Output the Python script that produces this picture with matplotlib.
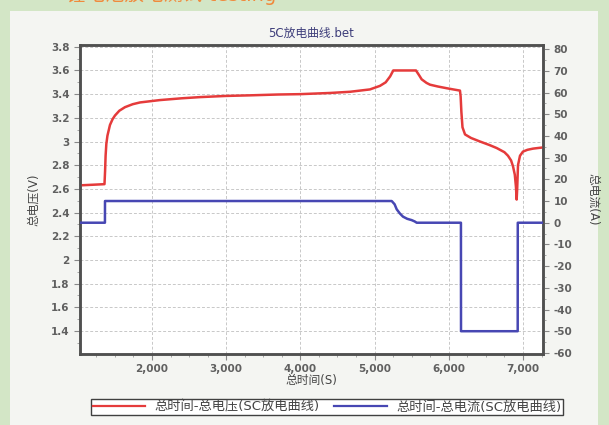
import matplotlib
matplotlib.use("Agg")
import matplotlib.pyplot as plt
from matplotlib.ticker import FuncFormatter, MultipleLocator, FixedLocator

plt.rcParams['font.family'] = ['DejaVu Sans', 'Noto Sans CJK SC']
plt.rcParams['axes.unicode_minus'] = False

# ---- data ----
volt_t = [1030, 1200, 1360, 1368, 1375, 1385, 1400, 1434, 1470, 1502, 1560, 1636, 1740, 1839,
          2108, 2400, 2647, 3000, 3321, 3700, 3995, 4400, 4669, 4938, 5073, 5150, 5210, 5252,
          5558, 5600, 5635, 5700, 5747, 5850, 5972, 6060, 6151, 6160, 6170, 6185, 6219, 6300,
          6421, 6550, 6646, 6750, 6798, 6840, 6866, 6890, 6905, 6915, 6922, 6933, 6960, 7000,
          7060, 7135, 7200, 7270]
volt_v = [2.63, 2.635, 2.64, 2.75, 2.88, 2.98, 3.05, 3.14, 3.19, 3.22, 3.26, 3.29, 3.315, 3.33,
          3.35, 3.365, 3.375, 3.385, 3.39, 3.397, 3.40, 3.41, 3.42, 3.44, 3.47, 3.50, 3.55, 3.60,
          3.60, 3.56, 3.525, 3.495, 3.48, 3.465, 3.45, 3.44, 3.43, 3.38, 3.25, 3.12, 3.06, 3.03,
          3.00, 2.97, 2.945, 2.91, 2.88, 2.84, 2.79, 2.72, 2.62, 2.51, 2.60, 2.80, 2.88, 2.915,
          2.93, 2.94, 2.945, 2.95]

curr_t = [1030, 1366, 1367, 5231, 5270, 5298, 5340, 5383, 5440, 5500, 5540, 5568, 6164, 6165,
          6929, 6930, 7270]
curr_a = [0, 0, 10, 10, 8.5, 6.2, 4.3, 2.8, 1.8, 1.2, 0.6, 0, 0, -50, -50, 0, 0]

title = "5C放电曲线.bet"
xlabel = "总时间(S)"
ylabel_left = "总电压(V)"
ylabel_right = "总电流(A)"
legend_labels = ["总时间-总电压(SC放电曲线)", "总时间-总电流(SC放电曲线)"]
header_text = "锂电池放电测试 testing"

x_ticks = [2000, 3000, 4000, 5000, 6000, 7000]
yl_ticks = [1.4, 1.6, 1.8, 2.0, 2.2, 2.4, 2.6, 2.8, 3.0, 3.2, 3.4, 3.6, 3.8]
yr_ticks = [-60, -50, -40, -30, -20, -10, 0, 10, 20, 30, 40, 50, 60, 70, 80]

# ---- figure ----
W, H = 609, 425
fig = plt.figure(figsize=(W / 100, H / 100), dpi=100, facecolor='#d3e6c6')
bg = fig.add_axes([10 / W, 0, (598 - 10) / W, (H - 11) / H], zorder=-10)
bg.set_facecolor('#f4f5f2')
bg.set_xticks([]); bg.set_yticks([])
for s in bg.spines.values():
    s.set_visible(False)

fig.text(66 / W, 1 - 1 / H, header_text, color='#f08a3c', fontsize=14,
         va='baseline', ha='left')

ax = fig.add_axes([80 / W, (H - 354) / H, (543 - 80) / W, (354 - 45) / H], zorder=1)
ax.set_facecolor('white')
ax2 = ax.twinx()

lv, = ax.plot(volt_t, volt_v, color='#e53b3b', lw=1.8, zorder=3)
lc, = ax2.plot(curr_t, curr_a, color='#4747b3', lw=1.8, zorder=3)

ax.set_xlim(1030, 7270)
ax.set_ylim(1.206, 3.815)
ax2.set_ylim(-60.5, 81.9)

tick_color = '#606060'
ax.xaxis.set_major_locator(FixedLocator(x_ticks))
ax.xaxis.set_minor_locator(MultipleLocator(250))
ax.xaxis.set_major_formatter(FuncFormatter(lambda v, p: f"{int(v):,}"))
ax.yaxis.set_major_locator(FixedLocator(yl_ticks))
ax.yaxis.set_minor_locator(MultipleLocator(0.1))
ax.yaxis.set_major_formatter(FuncFormatter(lambda v, p: f"{v:g}"))
ax2.yaxis.set_major_locator(FixedLocator(yr_ticks))
ax2.yaxis.set_minor_locator(MultipleLocator(5))

for a in (ax, ax2):
    a.tick_params(axis='both', which='major', labelsize=7.5, colors='#888888',
                  labelcolor=tick_color, length=4, width=0.8, direction='out')
    a.tick_params(axis='both', which='minor', colors='#999999', length=2, width=0.6,
                  direction='out')
    for lab in a.get_xticklabels() + a.get_yticklabels():
        lab.set_fontweight('bold')
ax.tick_params(axis='x', pad=3)

ax.grid(True, which='major', color='#c8c8c8', linestyle=(0, (3, 2)), lw=0.7)
ax.set_axisbelow(True)
for a in (ax, ax2):
    for s in a.spines.values():
        s.set_color('#505050')
        s.set_linewidth(1.8)

ax.set_title(title, fontsize=8.5, color='#3d3d7a', pad=6)
ax.set_xlabel(xlabel, fontsize=8.5, color='#444444', labelpad=0.5)
ax.set_ylabel(ylabel_left, fontsize=8.5, color='#444444', labelpad=8)
ax2.set_ylabel(ylabel_right, fontsize=8.5, color='#444444', rotation=270, labelpad=20)

leg = fig.legend([lv, lc], legend_labels, loc='center', ncol=2,
                 bbox_to_anchor=(327 / W, 1 - 407 / H), fontsize=9.5,
                 frameon=True, fancybox=False, edgecolor='#404040',
                 facecolor='white', framealpha=1, handlelength=4.0,
                 handletextpad=0.7, columnspacing=1.1, borderpad=0.1,
                 labelcolor='#444444')
leg.get_frame().set_linewidth(1.0)
for l in leg.get_lines():
    l.set_linewidth(1.6)

fig.savefig('out.png', dpi=100, facecolor=fig.get_facecolor())
